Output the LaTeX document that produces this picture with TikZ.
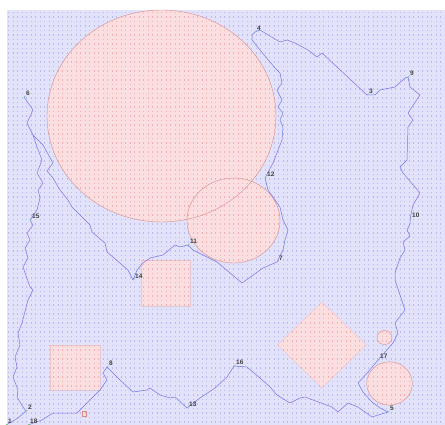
\documentclass[tikz,border=0pt]{standalone}
\usepackage{fontspec}
\setmainfont{Liberation Sans}
\usetikzlibrary{positioning}

\definecolor{fieldblue}{RGB}{226,226,251}
\definecolor{dotblue}{RGB}{186,186,243}
\definecolor{obspink}{RGB}{251,222,224}
\definecolor{dotpink}{RGB}{243,176,178}
\definecolor{obsedge}{RGB}{214,140,140}
\definecolor{routeblue}{RGB}{118,118,230}
\definecolor{tickgreen}{RGB}{120,205,120}

% rows of dots over the whole field
\newcommand{\dotfield}[1]{%
  \foreach \yy in {12.5,17,...,425}{\draw[dotrow,#1] (7,\yy) -- (445,\yy);}}

\begin{document}
\begin{tikzpicture}[
		x=1pt, y=-1pt,
		dotrow/.style={line width=1.2pt, dash pattern=on 1.2pt off 3.3pt, dash phase=-1pt},
		obstacle/.style={draw=obsedge, line width=0.4pt},
		route/.style={draw=routeblue, line width=0.5pt, line join=round},
		tick/.style={draw=tickgreen, line width=0.6pt},
		wplabel/.style={font=\fontsize{6.5}{7}\selectfont\bfseries, text=black!75, inner sep=0.5pt},
	]
	\useasboundingbox (0,0) rectangle (445,425);

	% -- field --
	\fill[fieldblue] (7,10) rectangle (445,425);
	\dotfield{dotblue}

	% -- obstacles --
	\begin{scope}
		\clip (161.5,116) ellipse [x radius=114.5pt, y radius=106pt]
		      (233.5,220.5) ellipse [x radius=46.5pt, y radius=42.5pt]
		      (141,260) rectangle (190,306)
		      (50,345) rectangle (100,390)
		      (322,302) -- (366.5,345) -- (322,388) -- (277.5,345) -- cycle
		      (384.5,337.5) ellipse [x radius=7.5pt, y radius=7pt]
		      (389.5,383.5) ellipse [x radius=22.8pt, y radius=21.7pt]
		      (82,411) rectangle (86,416);
		\fill[obspink] (0,0) rectangle (445,425);
		\dotfield{dotpink}
	\end{scope}
	\draw[obstacle] (161.5,116) ellipse [x radius=114.5pt, y radius=106pt];
	\draw[obstacle] (233.5,220.5) ellipse [x radius=46.5pt, y radius=42.5pt];
	\draw[obstacle, draw opacity=0.3] (141,260) rectangle (190,306);
	\draw[obstacle, draw opacity=0.3] (50,345) rectangle (100,390);
	\draw[obstacle, draw opacity=0.3] (322,302) -- (366.5,345) -- (322,388) -- (277.5,345) -- cycle;
	\draw[obstacle] (384.5,337.5) ellipse [x radius=7.5pt, y radius=7pt];
	\draw[obstacle] (389.5,383.5) ellipse [x radius=22.8pt, y radius=21.7pt];
	\draw[obstacle] (82,411) rectangle (86,416);

	% -- waypoints --
	\coordinate (w1) at (6,425);
	\coordinate (w2) at (26,411);
	\coordinate (w3) at (367,95);
	\coordinate (w4) at (255,32);
	\coordinate (w5) at (388,412);
	\coordinate (w6) at (24,97);
	\coordinate (w7) at (277,262);
	\coordinate (w8) at (107,367);
	\coordinate (w9) at (408,77);
	\coordinate (w10) at (410,219);
	\coordinate (w11) at (188,245);
	\coordinate (w12) at (265,178);
	\coordinate (w13) at (187,408);
	\coordinate (w14) at (133,280);
	\coordinate (w15) at (30,220);
	\coordinate (w16) at (234,366);
	\coordinate (w17) at (378,360);
	\coordinate (w18) at (28,425);

	% -- routes --
	\draw[route] (w6) -- (33,110) -- (27,123) -- (33,135) -- (43,145) -- (53,163)
		-- (47,171) -- (53,178) -- (60,190) -- (68,200) -- (72,207) -- (90,225)
		-- (92,232) -- (105,243) -- (107,252) -- (128,270) -- (w14);
	\draw[route] (33,135) -- (37,147) -- (42,160) -- (37,173) -- (43,183)
		-- (38,190) -- (40,198) -- (37,210) -- (w15);
	\draw[route] (w15) -- (33,225) -- (27,233) -- (30,240) -- (25,248) -- (28,258)
		-- (23,267) -- (30,287) -- (33,290) -- (28,300) -- (22,323) -- (18,333)
		-- (20,345) -- (15,357) -- (17,367) -- (13,377) -- (18,390) -- (17,397)
		-- (23,407) -- (w2);
	\draw[route] (w2) -- (18,418) -- (w1);

	\draw[route] (w14) -- (137,270) -- (143,263) -- (150,258) -- (163,255)
		-- (175,245) -- (180,247) -- (w11);
	\draw[route] (w11) -- (193,250) -- (217,262) -- (242,283) -- (263,268) -- (w7);
	\draw[route] (w7) -- (283,250) -- (285,240) -- (288,230) -- (283,220)
		-- (280,207) -- (268,190) -- (w12);
	\draw[route] (w12) -- (273,163) -- (282,140) -- (283,127) -- (280,120)
		-- (283,113) -- (278,107) -- (282,100) -- (277,90) -- (282,83) -- (280,73)
		-- (275,68) -- (270,62) -- (260,50) -- (252,40) -- (252,35) -- (w4);
	\draw[route] (w4) -- (260,30) -- (280,42) -- (287,40) -- (295,43) -- (308,50)
		-- (317,57) -- (322,53) -- (w3);
	\draw[route] (w3) -- (375,95) -- (380,90) -- (395,87) -- (405,78) -- (w9);
	\draw[route] (w9) -- (410,87) -- (420,95) -- (408,113) -- (413,120) -- (408,127)
		-- (407,160) -- (400,167) -- (403,173) -- (420,193) -- (413,205) -- (w10);
	\draw[route] (w10) -- (410,224) -- (407,230) -- (410,236) -- (403,242) -- (405,250)
		-- (400,258) -- (395,273) -- (395,280) -- (405,310) -- (395,323) -- (398,333)
		-- (393,343) -- (w17);
	\draw[route] (w17) -- (368,372) -- (358,383) -- (363,392) -- (372,402)
		-- (380,408) -- (w5);

	\draw[route] (w18) -- (42,420) -- (53,413) -- (77,413) -- (88,402) -- (100,390)
		-- (107,380) -- (103,373) -- (w8);
	\draw[route] (w8) -- (120,380) -- (133,392) -- (147,390) -- (150,388) -- (160,395)
		-- (170,398) -- (175,397) -- (w13);
	\draw[route] (w13) -- (200,398) -- (215,388) -- (227,377) -- (w16);
	\draw[route] (w16) -- (247,367) -- (260,378) -- (270,387) -- (277,395) -- (290,403)
		-- (300,398) -- (305,397) -- (332,407) -- (338,412) -- (348,403) -- (358,407)
		-- (372,417) -- (w5);

	% -- labels --
	\foreach \n in {1,...,18}{
		\node[wplabel, above right=1pt and 1.5pt of w\n] (l\n) {\n};
		\draw[tick] (w\n) -- (l\n.south west);
	}
\end{tikzpicture}
\end{document}
